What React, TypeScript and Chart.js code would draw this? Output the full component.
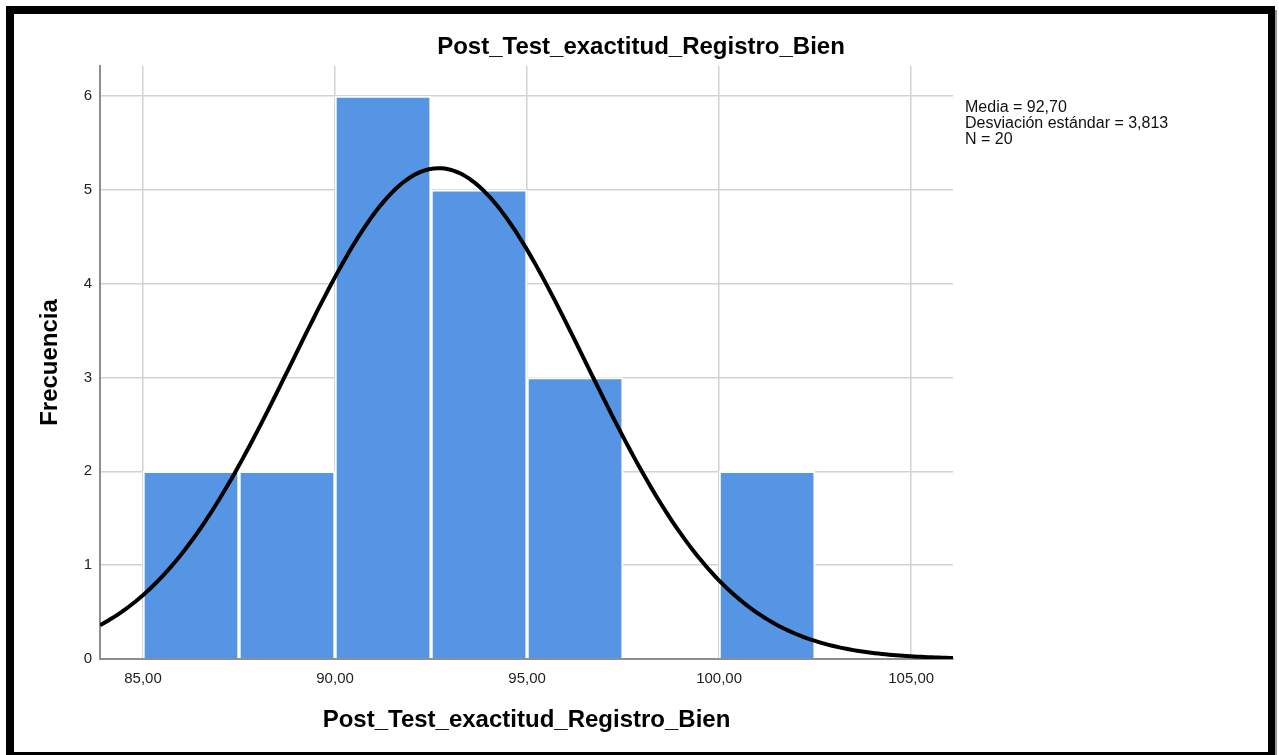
import React, { useEffect, useRef } from 'react';
import { Chart, registerables } from 'chart.js';

Chart.register(...registerables);

// ---- Data ----
const CHART_TITLE = 'Post_Test_exactitud_Registro_Bien';
const X_TITLE = 'Post_Test_exactitud_Registro_Bien';
const Y_TITLE = 'Frecuencia';
const BIN_CENTERS = [86.25, 88.75, 91.25, 93.75, 96.25, 98.75, 101.25];
const FREQUENCIES = [2, 2, 6, 5, 3, 0, 2];
const MEAN = 92.7;
const SD = 3.813;
const N = 20;
const BIN_WIDTH = 2.5;
const STATS_LINES = ['Media = 92,70', 'Desviación estándar = 3,813', 'N = 20'];
const X_MIN = 83.88;
const X_MAX = 106.09;
const X_STEP = 5;
const Y_MIN = 0;
const Y_MAX = 6.32;
const Y_STEP = 1;

const FONT = '"Liberation Sans", Arial, Helvetica, sans-serif';
const BAR_COLOR = 'rgb(85,149,228)';

// fitted normal curve from the stats shown in the chart
const CURVE_X: number[] = [];
for (let i = 0; i <= 240; i++) CURVE_X.push(X_MIN + ((X_MAX - X_MIN) * i) / 240);
const normalCurve = CURVE_X.map((x) => ({
  x,
  y: (N * BIN_WIDTH) / (SD * Math.sqrt(2 * Math.PI)) * Math.exp(-0.5 * ((x - MEAN) / SD) ** 2),
}));

const textPlugin = {
  id: 'extraText',
  afterDraw(chart: any) {
    const { ctx, chartArea, width } = chart;
    ctx.save();
    // main title, centred on the whole figure
    ctx.font = `bold 24px ${FONT}`;
    ctx.fillStyle = '#000';
    ctx.textAlign = 'center';
    ctx.textBaseline = 'middle';
    ctx.fillText(CHART_TITLE, width / 2, 33);
    // statistics block
    ctx.font = `16px ${FONT}`;
    ctx.fillStyle = '#111';
    ctx.textAlign = 'left';
    ctx.textBaseline = 'alphabetic';
    STATS_LINES.forEach((t, i) => {
      ctx.fillText(t, chartArea.right + 12, 98 + i * 16);
    });
    ctx.restore();
  },
};

export default function App() {
  const ref = useRef<HTMLCanvasElement | null>(null);

  useEffect(() => {
    if (!ref.current) return;
    const chart = new Chart(ref.current, {
      type: 'bar',
      data: {
        datasets: [
          {
            type: 'line',
            data: normalCurve,
            borderColor: '#000',
            borderWidth: 4,
            pointRadius: 0,
            tension: 0,
            fill: false,
            order: 0,
          } as any,
          {
            type: 'bar',
            data: BIN_CENTERS.map((x, i) => ({ x, y: FREQUENCIES[i] })),
            backgroundColor: BAR_COLOR,
            borderColor: '#fff',
            borderWidth: 2,
            borderSkipped: 'start',
            categoryPercentage: 1,
            barPercentage: 1,
            order: 1,
          } as any,
        ],
      },
      options: {
        responsive: false,
        animation: false,
        devicePixelRatio: 1,
        layout: { padding: { left: 0, right: 315, top: 52, bottom: 0 } },
        plugins: {
          legend: { display: false },
          tooltip: { enabled: false },
          title: { display: false },
        },
        scales: {
          x: {
            type: 'linear',
            min: X_MIN,
            max: X_MAX,
            offset: false,
            grid: { color: '#d2d2d2', lineWidth: 1.5, drawTicks: false, offset: false },
            border: { color: '#8e8e8e', width: 2 },
            ticks: {
              stepSize: X_STEP,
              includeBounds: false,
              padding: 11,
              color: '#222',
              font: { family: FONT, size: 15 },
              callback: (v: any) => Number(v).toFixed(2).replace('.', ','),
            },
            title: {
              display: true,
              text: X_TITLE,
              color: '#000',
              font: { family: FONT, size: 24, weight: 'bold' },
              padding: { top: 0, bottom: 17 },
            },
            afterFit: (s: any) => {
              s.height = 93;
            },
          },
          y: {
            type: 'linear',
            min: Y_MIN,
            max: Y_MAX,
            grid: { color: '#d2d2d2', lineWidth: 1.5, drawTicks: false },
            border: { color: '#8e8e8e', width: 2 },
            ticks: {
              stepSize: Y_STEP,
              includeBounds: false,
              padding: 8,
              color: '#222',
              font: { family: FONT, size: 15 },
            },
            title: {
              display: true,
              text: Y_TITLE,
              color: '#000',
              font: { family: FONT, size: 24, weight: 'bold' },
              padding: { top: 22, bottom: 0 },
            },
            afterFit: (s: any) => {
              s.width = 86;
            },
          },
        },
      } as any,
      plugins: [textPlugin],
    });
    return () => chart.destroy();
  }, []);

  return (
    <div style={{ position: 'fixed', left: 0, top: 0, width: 1279, height: 755, background: '#fff', overflow: 'hidden' }}>
      <div style={{ position: 'absolute', left: 1275, top: 10, width: 2, height: 745, background: '#9a9a9a' }} />
      <div style={{ position: 'absolute', left: 6, top: 6, width: 1269, height: 760, background: '#000' }} />
      <div style={{ position: 'absolute', left: 14, top: 14, width: 1254, height: 738, background: '#fff' }}>
        <canvas ref={ref} width={1254} height={738} style={{ display: 'block' }} />
      </div>
    </div>
  );
}
